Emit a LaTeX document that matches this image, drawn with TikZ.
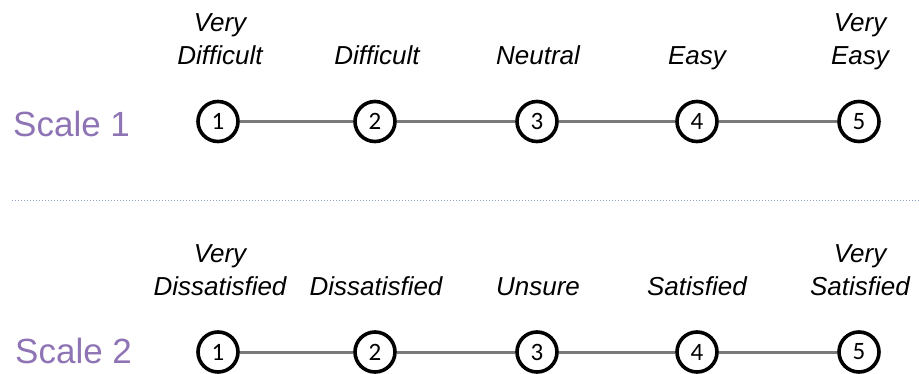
\documentclass[tikz,border=0pt]{standalone}
\usepackage{fontspec}
\setmainfont{Liberation Sans}
\newfontfamily\numfont{Carlito}
\definecolor{scalecol}{HTML}{8E74B4}
\definecolor{linecol}{HTML}{7A7A7A}
\definecolor{dotcol}{HTML}{8FA3C8}
\tikzset{
  pt/.style={circle, draw=black, line width=3.6pt, minimum size=40pt, inner sep=0pt, fill=white,
     font=\numfont\fontsize{25}{25}\selectfont},
  conn/.style={draw=linecol, line width=3pt},
  lab/.style={anchor=south, align=center, inner sep=0pt,
     font=\itshape\fontsize{26}{33}\selectfont},
  scl/.style={anchor=base west, inner sep=0pt, text=scalecol,
     font=\fontsize{35}{40}\selectfont},
  sep/.style={draw=dotcol, line width=1pt, dotted}
}
\begin{document}
\begin{tikzpicture}[x=1pt,y=-1pt]
\useasboundingbox (0,0) rectangle (919,374);
% Scale 1
\node[scl] (s1) at (13,137) {Scale 1};
\foreach \i/\x in {1/218,2/375,3/537,4/697,5/859}{
  \node[pt] (a\i) at (\x,121.5) {\i};
}
\foreach \i/\j in {1/2,2/3,3/4,4/5}{
  \draw[conn] (a\i) -- (a\j);
}
\node[lab] (l11) at (220,75) {Very\\Difficult\strut};
\node[lab] (l12) at (377,75) {Difficult\strut};
\node[lab] (l13) at (538,75) {Neutral\strut};
\node[lab] (l14) at (697,75) {Easy\strut};
\node[lab] (l15) at (860,75) {Very\\Easy\strut};
% separator
\coordinate (d1) at (12,201);
\coordinate (d2) at (919,201);
\draw[sep] (d1) -- (d2);
% Scale 2
\node[scl] (s2) at (15,363) {Scale 2};
\foreach \i/\x in {1/218,2/375,3/537,4/697,5/859}{
  \node[pt] (b\i) at (\x,352) {\i};
}
\foreach \i/\j in {1/2,2/3,3/4,4/5}{
  \draw[conn] (b\i) -- (b\j);
}
\node[lab] (l21) at (220,306) {Very\\Dissatisfied\strut};
\node[lab] (l22) at (376,306) {Dissatisfied\strut};
\node[lab] (l23) at (538,306) {Unsure\strut};
\node[lab] (l24) at (697,306) {Satisfied\strut};
\node[lab] (l25) at (860,306) {Very\\Satisfied\strut};
\end{tikzpicture}
\end{document}
